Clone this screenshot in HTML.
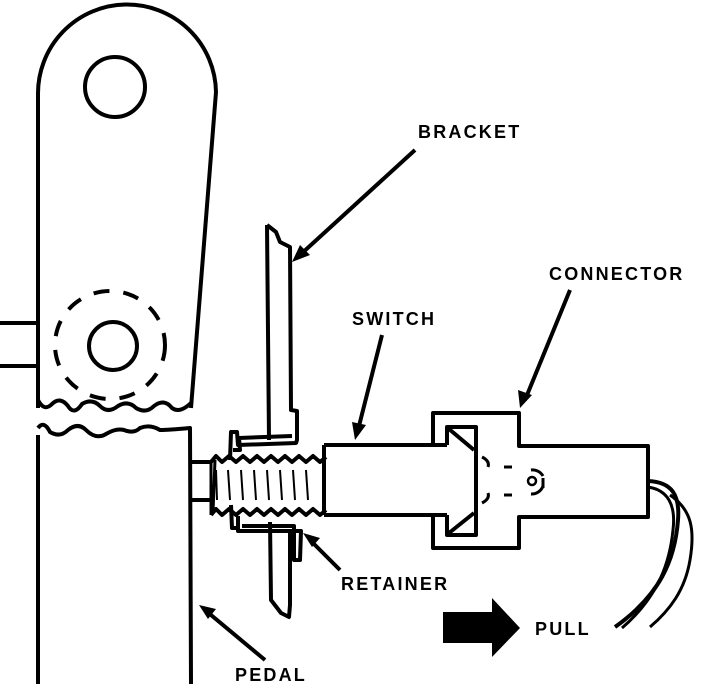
<!DOCTYPE html>
<html><head><meta charset="utf-8"><style>
html,body{margin:0;padding:0;background:#fff;}
svg{display:block}
text{font-family:"Liberation Sans",sans-serif;font-weight:bold;font-size:18px;letter-spacing:2.2px;fill:#000}
</style></head><body>
<svg width="704" height="684" viewBox="0 0 704 684" xmlns="http://www.w3.org/2000/svg">
<g fill="none" stroke="#000" stroke-width="4" stroke-linejoin="round">
<!-- pedal upper -->
<path d="M38,408 L38,95 A89,89 0 0 1 216,92 L191,408"/>
<circle cx="115" cy="87" r="30"/>
<circle cx="113" cy="346" r="24"/>
<ellipse cx="110" cy="345" rx="55" ry="54" stroke-dasharray="16,14"/>
<path d="M0,323 L38,323 M0,366 L38,366"/>
<path d="M38,400 q6,12 14,4 q8,-8 16,2 q6,10 14,-2 q10,-6 18,2 q8,8 18,0 q10,-6 18,2 q10,6 18,-2 q10,-8 18,2 q8,6 20,-6"/>
<path d="M38,435 L38,684 M38,428 q6,-8 12,4 q10,6 18,-2 q10,-8 18,0 q10,10 20,4 q10,-6 18,-4 q10,4 16,-2 q10,-4 20,2 q8,0 30,-2 L191,684"/>
<!-- stud -->
<path d="M191,462 L211,462 M191,500 L211,500"/>
<!-- bracket -->
<path d="M267,225 L269,440 M267,225 L276,232 L280,242 L290,247 L291,410 L297,411 L297,440 L296,443 L238,445 L237,432 L231,432 L230,460"/>
<path d="M233,450 L240,450 L239,438 L292,436"/>
<path d="M270,522 L271,600 L281,613 L289,617 L290,605 L290,530 M238,516 L238,531 L301,531 L300,560 L294,560 L294,526 L242,526"/>
<path d="M231,505 L232,528 L238,528"/>
<!-- threads -->
<path d="M211,462 l5,-6 l6,6 l7,-6 l7,6 l7,-6 l7,6 l7,-6 l7,6 l7,-6 l7,6 l7,-6 l7,6 l7,-6 l7,6 l7,-6 l7,6 l6,-5"/>
<path d="M211,515 l5,-6 l6,6 l7,-6 l7,6 l7,-6 l7,6 l7,-6 l7,6 l7,-6 l7,6 l7,-6 l7,6 l7,-6 l7,6 l7,-6 l7,6 l6,-5"/>
<path d="M211,462 L211,515 M215,460 L213,512" stroke-width="3"/>
<path d="M216,470 L217,500 M228,470 L230,500 M241,470 L243,500 M254,470 L256,500 M267,470 L269,500 M280,470 L282,500 M293,470 L295,500 M306,470 L308,500" stroke-width="2"/>
<!-- switch body -->
<path d="M324,445 L324,515 M324,445 L447,445 M324,515 L447,515"/>
<!-- connector -->
<path d="M433,445 L433,413 L519,413 L519,446 L648,446 L648,517 L519,517 L519,548 L433,548 L433,515"/>
<path d="M447,445 L447,427 L476,427 L476,535 L447,535 L447,515 M449,429 L474,450 M449,533 L474,513"/>
<path d="M482,457 q8,4 6,10 M482,503 q8,-4 6,-10 M504,467 l8,0 M504,495 l8,0" stroke-width="3"/>
<path d="M531,470 a12,12 0 0 1 12,6 M531,494 a12,12 0 0 0 12,-8 M543,478 l0,10" stroke-width="3"/>
<circle cx="532" cy="481" r="4" stroke-width="2.5"/>
<!-- wires -->
<path d="M648,481 C672,482 680,495 678,520 C675,560 660,595 615,627"/>
<path d="M648,487 C668,490 676,505 673,530 C670,560 660,595 622,628" stroke-width="3"/>
<path d="M670,495 C692,510 695,530 690,560 C685,590 670,610 650,627" stroke-width="3"/>
<!-- leader arrows -->
<path d="M415,150 L300,255 M570,290 L525,400 M382,335 L358,430 M340,570 L310,540 M265,660 L205,610"/>
</g>
<g fill="#000">
<polygon points="292,262 300,245 310,255"/>
<polygon points="520,408 518,390 532,395"/>
<polygon points="355,440 352,422 366,425"/>
<polygon points="303,533 320,538 312,547"/>
<polygon points="199,605 216,609 208,619"/>
<polygon points="443,612 492,612 492,598 520,628 492,657 492,643 443,643"/>
</g>
<text x="418" y="138">BRACKET</text>
<text x="549" y="280">CONNECTOR</text>
<text x="352" y="325">SWITCH</text>
<text x="341" y="590">RETAINER</text>
<text x="535" y="635">PULL</text>
<text x="235" y="681">PEDAL</text>
</svg>
</body></html>
